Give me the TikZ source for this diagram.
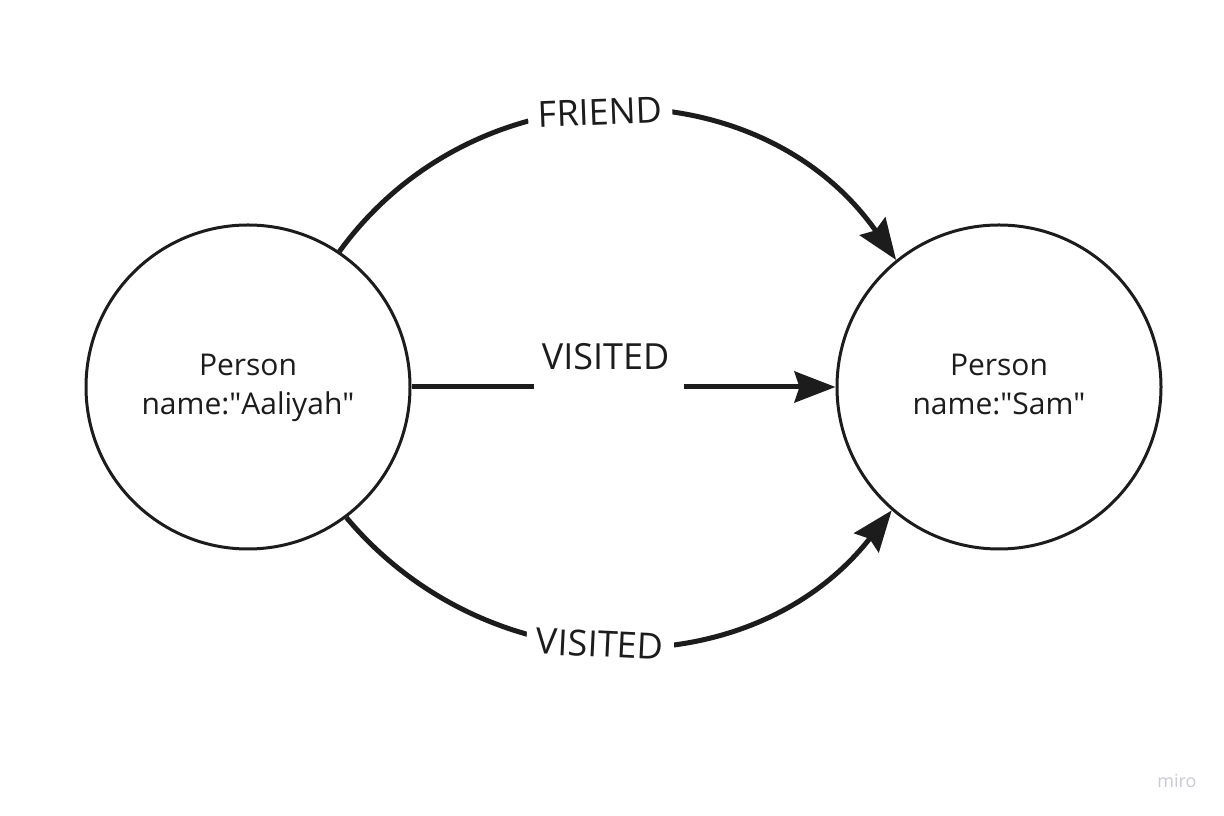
\documentclass[tikz,border=0pt]{standalone}
\usepackage{fontspec}
\setmainfont{Open Sans}
\usetikzlibrary{arrows.meta}
\definecolor{ink}{HTML}{1C1C1C}
\definecolor{wm}{HTML}{C9CAD2}
\tikzset{
  person/.style={circle, draw=ink, line width=3pt, minimum size=324pt, inner sep=0pt,
    align=center, text=ink, font=\fontsize{30}{39.5}\selectfont},
  conn/.style={draw=ink, line width=5pt, -{Stealth[length=41pt,width=31pt,inset=5pt]}},
  lbl/.style={fill=white, inner xsep=10pt, inner ysep=4pt, text=ink, font=\fontsize{36}{40}\selectfont},
  gapbox/.style={fill=white, minimum width=150pt, minimum height=12pt, inner sep=0pt},
  lbltext/.style={text=ink, font=\fontsize{36}{40}\selectfont, inner sep=0pt}
}
\begin{document}
\begin{tikzpicture}[x=1pt,y=1pt]
\useasboundingbox (0,0) rectangle (1224,816);
\node[person] (A) at (248,429) {\strut Person\\\strut name:\textquotedbl Aaliyah\textquotedbl};
\node[person] (B) at (999,429) {\strut Person\\\strut name:\textquotedbl Sam\textquotedbl};
% FRIEND
\draw[conn] (A.56) to[out=54,in=125,looseness=1.08]
  node[lbl,pos=0.47,sloped] (lf) {FRIEND} (B.129);
% VISITED middle
\draw[conn] (A.east) -- node[gapbox,pos=0.465] (gm) {} (B.west);
\node[lbltext] (lm) at ([xshift=-3pt,yshift=30pt]gm.center) {VISITED};
% VISITED bottom
\draw[conn] (A.-53) to[out=-50,in=-128,looseness=1.05]
  node[lbl,pos=0.465,sloped] (lb) {VISITED} (B.-131);
% watermark
\node[text=wm, font=\fontsize{18}{20}\selectfont, inner sep=0pt] (wmark) at (1177,35) {miro};
\end{tikzpicture}
\end{document}
